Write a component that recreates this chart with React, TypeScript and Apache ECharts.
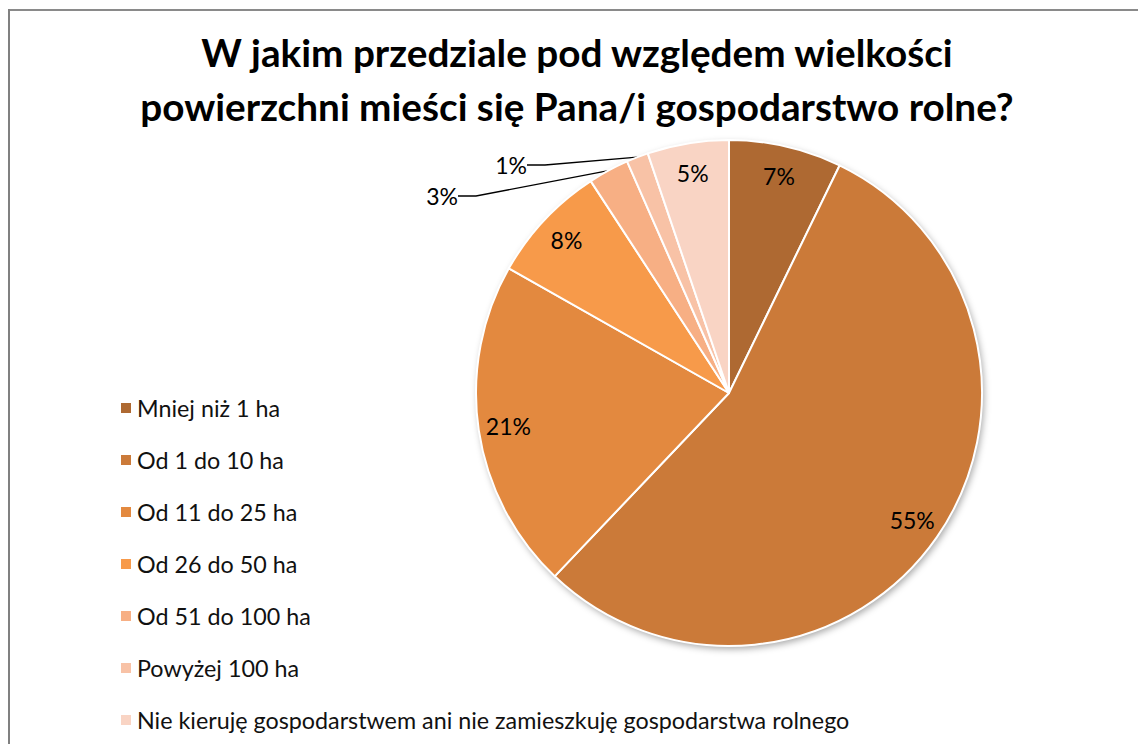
import React, { useEffect, useRef } from "react";
import * as echarts from "echarts";

const titleLines = [
  "W jakim przedziale pod względem wielkości",
  "powierzchni mieści się Pana/i gospodarstwo rolne?",
];
const categories = [
  "Mniej niż 1 ha",
  "Od 1 do 10 ha",
  "Od 11 do 25 ha",
  "Od 26 do 50 ha",
  "Od 51 do 100 ha",
  "Powyżej 100 ha",
  "Nie kieruję gospodarstwem ani nie zamieszkuję gospodarstwa rolnego",
];
const values = [7.2, 54.9, 21.1, 7.6, 2.6, 1.4, 5.2];
const colors = ["#AE6932", "#CB7A39", "#E3893F", "#F79A4A", "#F7AF84", "#F8C2A6", "#F9D4C4"];
// which slices get an outside label with a leader line
const outsideLabel = [false, false, false, false, true, true, false];

const FONT = "Lato, 'Noto Sans', sans-serif";

export default function App() {
  const ref = useRef<HTMLDivElement>(null);
  useEffect(() => {
    if (!ref.current) return;
    const chart = echarts.init(ref.current, null, { renderer: "svg" });
    const total = values.reduce((a, b) => a + b, 0);
    const center = [721, 385];
    const R = 253;
    const fmt = (p: any) => Math.round(p.percent) + "%";
    const outsidePos: Record<number, { x: number; y: number }> = {
      4: { x: 450, y: 188 },
      5: { x: 519, y: 157 },
    };
    chart.setOption({
      animation: false,
      backgroundColor: "#fff",
      title: {
        text: titleLines.join("\n"),
        left: "center",
        top: 12,
        textStyle: {
          fontFamily: FONT,
          fontWeight: "bold",
          fontSize: 38.7,
          lineHeight: 54,
          color: "#000",
        },
      },
      legend: {
        orient: "vertical",
        left: 106,
        top: 383,
        itemWidth: 12,
        itemHeight: 12,
        itemGap: 28,
        icon: "rect",
        data: categories,
        textStyle: {
          fontFamily: FONT,
          fontSize: 23.3,
          lineHeight: 24,
          color: "#111",
        },
      },
      graphic: [
        { type: "rect", shape: { x: 0, y: 1, width: 2000, height: 2 }, style: { fill: "#8a8a8a" } },
        { type: "rect", shape: { x: 0, y: 1, width: 2, height: 2000 }, style: { fill: "#808080" } },
      ],
      series: [
        {
          type: "pie",
          silent: true,
          z: 1,
          center,
          radius: R,
          label: { show: false },
          labelLine: { show: false },
          data: [
            {
              value: total,
              name: "_shadow",
              itemStyle: {
                color: "#fff",
                shadowBlur: 7,
                shadowOffsetX: 2,
                shadowOffsetY: 3,
                shadowColor: "rgba(0,0,0,0.35)",
              },
            },
          ],
        },
        {
          type: "pie",
          z: 2,
          center,
          radius: R,
          startAngle: 90,
          clockwise: true,
          avoidLabelOverlap: false,
          emphasis: { disabled: true },
          itemStyle: { borderColor: "#fff", borderWidth: 2 },
          data: values.map((v, i) => ({
            value: v,
            name: categories[i],
            itemStyle: { color: colors[i] },
            label: {
              show: outsideLabel[i],
              position: "outside",
              formatter: fmt,
              fontFamily: FONT,
              fontSize: 23,
              color: "#000",
            },
            labelLine: {
              show: outsideLabel[i],
              length: 10,
              length2: 18,
              smooth: false,
              lineStyle: { color: "#000", width: 1.3 },
            },
          })),
          labelLayout: (p: any) => {
            const pos = outsidePos[p.dataIndex];
            return pos ? { x: pos.x, y: pos.y } : {};
          },
        },
        {
          type: "pie",
          z: 3,
          silent: true,
          center,
          radius: [187, R],
          startAngle: 90,
          clockwise: true,
          itemStyle: { color: "rgba(0,0,0,0)", borderWidth: 0 },
          labelLine: { show: false },
          data: values.map((v, i) => ({
            value: v,
            name: categories[i],
            label: {
              show: !outsideLabel[i],
              position: "inside",
              formatter: fmt,
              fontFamily: FONT,
              fontSize: 23,
              color: "#000",
            },
          })),
        },
      ],
    });
    return () => chart.dispose();
  }, []);
  return <div ref={ref} style={{ width: 1138, height: 736 }} />;
}
